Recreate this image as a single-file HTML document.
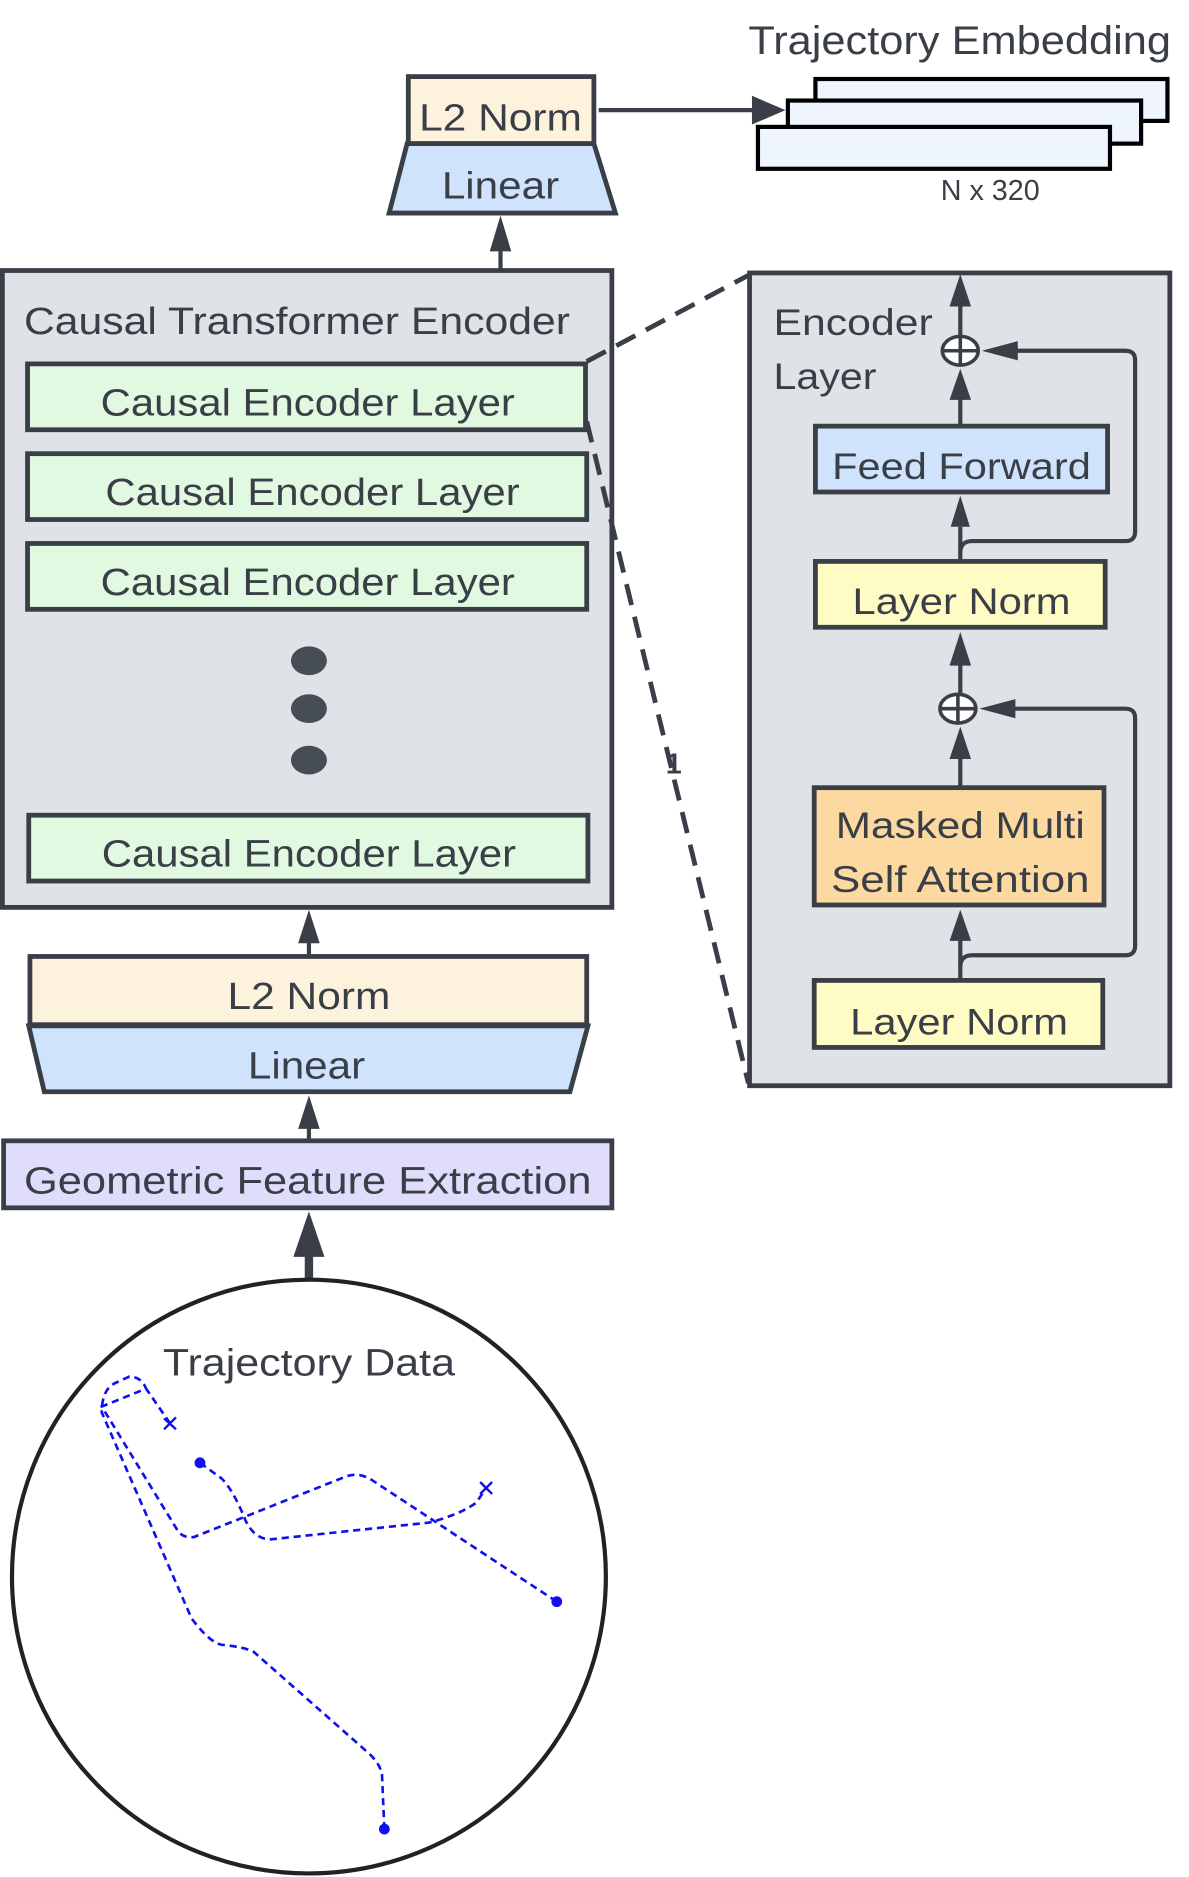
<!DOCTYPE html>
<html><head><meta charset="utf-8"><style>
html,body{margin:0;padding:0;background:#fff;}
svg{display:block;}
text{font-family:"Liberation Sans",sans-serif;fill:#3a3f47;}
</style></head><body>
<svg width="1189" height="1877" viewBox="0 0 993 1568" preserveAspectRatio="none" xmlns="http://www.w3.org/2000/svg">
<g stroke="#3a3f47" stroke-width="4">
<text x="625" y="45" font-size="33" textLength="353" lengthAdjust="spacingAndGlyphs" stroke="none">Trajectory Embedding</text>
<rect x="681" y="66" width="294" height="35" fill="#eef5ff" stroke="#000" stroke-width="3.5"/>
<rect x="658" y="84" width="295" height="36" fill="#eef5ff" stroke="#000" stroke-width="3.5"/>
<rect x="633" y="106" width="294" height="35" fill="#eef5ff" stroke="#000" stroke-width="3.5"/>
<text x="827" y="167" font-size="24" text-anchor="middle" stroke="none">N x 320</text>

<rect x="341" y="64" width="155" height="56" fill="#fdf3dc"/>
<text x="418" y="109" font-size="32" text-anchor="middle" textLength="136" lengthAdjust="spacingAndGlyphs" stroke="none">L2 Norm</text>
<polygon points="340,120 496,120 514,178 325,178" fill="#cfe3fc"/>
<text x="418" y="166" font-size="32" text-anchor="middle" textLength="98" lengthAdjust="spacingAndGlyphs" stroke="none">Linear</text>
<line x1="500" y1="92" x2="630" y2="92" stroke-width="3.5"/>
<polygon points="656,92 628,80 628,104" fill="#3a3f47" stroke="none"/>
<line x1="418" y1="225" x2="418" y2="205" stroke-width="3.5"/>
<polygon points="418,180 409,210 427,210" fill="#3a3f47" stroke="none"/>

<rect x="2" y="226" width="509" height="532" fill="#dfe2e7"/>
<text x="20" y="279" font-size="32" textLength="456" lengthAdjust="spacingAndGlyphs" stroke="none">Causal Transformer Encoder</text>
<rect x="23" y="304" width="466" height="55" fill="#e1f9e1"/>
<text x="257" y="347" font-size="32" text-anchor="middle" textLength="346" lengthAdjust="spacingAndGlyphs" stroke="none">Causal Encoder Layer</text>
<rect x="23" y="379" width="467" height="55" fill="#e1f9e1"/>
<text x="261" y="422" font-size="32" text-anchor="middle" textLength="346" lengthAdjust="spacingAndGlyphs" stroke="none">Causal Encoder Layer</text>
<rect x="23" y="454" width="467" height="55" fill="#e1f9e1"/>
<text x="257" y="497" font-size="32" text-anchor="middle" textLength="346" lengthAdjust="spacingAndGlyphs" stroke="none">Causal Encoder Layer</text>
<ellipse cx="258" cy="552" rx="15" ry="12" fill="#474d55" stroke="none"/>
<ellipse cx="258" cy="592" rx="15" ry="12" fill="#474d55" stroke="none"/>
<ellipse cx="258" cy="635" rx="15" ry="12" fill="#474d55" stroke="none"/>
<rect x="24" y="681" width="467" height="55" fill="#e1f9e1"/>
<text x="258" y="724" font-size="32" text-anchor="middle" textLength="346" lengthAdjust="spacingAndGlyphs" stroke="none">Causal Encoder Layer</text>

<line x1="258" y1="797" x2="258" y2="780" stroke-width="3.5"/>
<polygon points="258,760 249,788 267,788" fill="#3a3f47" stroke="none"/>
<rect x="25" y="799" width="465" height="57" fill="#fdf3dc"/>
<text x="258" y="843" font-size="32" text-anchor="middle" textLength="136" lengthAdjust="spacingAndGlyphs" stroke="none">L2 Norm</text>
<polygon points="24,857 491,857 476,912 37,912" fill="#cfe3fc"/>
<text x="256" y="901" font-size="32" text-anchor="middle" textLength="98" lengthAdjust="spacingAndGlyphs" stroke="none">Linear</text>
<line x1="258" y1="952" x2="258" y2="935" stroke-width="3.5"/>
<polygon points="258,915 249,943 267,943" fill="#3a3f47" stroke="none"/>
<rect x="3" y="953" width="508" height="56" fill="#e0dcfb"/>
<text x="257" y="997" font-size="32" text-anchor="middle" textLength="474" lengthAdjust="spacingAndGlyphs" stroke="none">Geometric Feature Extraction</text>
<line x1="258" y1="1070" x2="258" y2="1040" stroke-width="7"/>
<polygon points="258,1012 245,1050 271,1050" fill="#3a3f47" stroke="none"/>

<circle cx="258" cy="1317" r="248" fill="#fff" stroke="#222" stroke-width="3.5"/>
<text x="258" y="1149" font-size="32" text-anchor="middle" textLength="244" lengthAdjust="spacingAndGlyphs" stroke="none">Trajectory Data</text>
<g fill="none" stroke="#1010ee" stroke-width="2.2" stroke-dasharray="6,4">
<path d="M142,1189 L122,1160 L85,1175 L148,1278 Q152,1285 162,1284 L290,1233 Q300,1230 310,1236 L465,1338"/>
<path d="M321,1528 L319,1482 Q317,1472 305,1462 L212,1380 Q205,1376 185,1374 Q175,1372 160,1352 L85,1180 Q85,1160 97,1155 L108,1150 Q118,1150 122,1160"/>
<path d="M167,1222 L185,1235 Q195,1245 205,1270 Q212,1285 225,1286 L358,1272 Q385,1265 398,1255 L406,1243"/>
</g>
<circle cx="167" cy="1222" r="4.5" fill="#1010ee" stroke="none"/>
<circle cx="465" cy="1338" r="4.5" fill="#1010ee" stroke="none"/>
<circle cx="321" cy="1528" r="4.5" fill="#1010ee" stroke="none"/>
<g stroke="#1010ee" stroke-width="2"><path d="M137,1185 L147,1194 M147,1184 L137,1194 M401,1238 L411,1248 M411,1238 L401,1248"/></g>

<g stroke="#3a3f47" stroke-width="4" stroke-dasharray="18,10" fill="none">
<line x1="490" y1="302" x2="625" y2="230"/>
<line x1="490" y1="352" x2="625" y2="905"/>
</g>
<text x="556" y="646" font-size="24" font-weight="bold" stroke="none" fill="#222">1</text>

<rect x="626" y="228" width="351" height="679" fill="#dfe2e7"/>
<text x="646" y="280" font-size="31" textLength="133" lengthAdjust="spacingAndGlyphs" stroke="none">Encoder</text>
<text x="646" y="325" font-size="31" textLength="86" lengthAdjust="spacingAndGlyphs" stroke="none">Layer</text>
<g stroke-width="3.5" fill="none">
<line x1="802" y1="818" x2="802" y2="780"/>
<line x1="802" y1="657" x2="802" y2="632"/>
<line x1="802" y1="580" x2="802" y2="555"/>
<line x1="802" y1="468" x2="802" y2="440"/>
<line x1="802" y1="355" x2="802" y2="330"/>
<line x1="802" y1="280" x2="802" y2="250"/>
<path d="M802,808 Q802,798 812,798 L940,798 Q948,798 948,790 L948,600 Q948,592 940,592 L840,592"/>
<path d="M802,462 Q802,452 812,452 L940,452 Q948,452 948,444 L948,301 Q948,293 940,293 L840,293"/>
</g>
<g fill="#3a3f47" stroke="none">
<polygon points="802,760 793,786 811,786"/>
<polygon points="802,607 793,634 811,634"/>
<polygon points="802,528 793,556 811,556"/>
<polygon points="802,414 794,440 810,440"/>
<polygon points="802,308 793,334 811,334"/>
<polygon points="802,229 793,256 811,256"/>
<polygon points="818,592 848,584 848,600"/>
<polygon points="820,293 850,285 850,301"/>
</g>
<ellipse cx="802" cy="293" rx="15" ry="12" fill="#fff" stroke-width="3"/>
<line x1="787" y1="293" x2="817" y2="293" stroke-width="3"/>
<line x1="802" y1="281" x2="802" y2="305" stroke-width="3"/>
<ellipse cx="800" cy="592" rx="15" ry="12" fill="#fff" stroke-width="3"/>
<line x1="785" y1="592" x2="815" y2="592" stroke-width="3"/>
<line x1="800" y1="580" x2="800" y2="604" stroke-width="3"/>

<rect x="681" y="356" width="244" height="55" fill="#cfe3fc"/>
<text x="803" y="400" font-size="31" text-anchor="middle" textLength="216" lengthAdjust="spacingAndGlyphs" stroke="none">Feed Forward</text>
<rect x="681" y="469" width="242" height="55" fill="#fefbc4"/>
<text x="803" y="513" font-size="31" text-anchor="middle" textLength="182" lengthAdjust="spacingAndGlyphs" stroke="none">Layer Norm</text>
<rect x="680" y="658" width="242" height="98" fill="#fdd9a2"/>
<text x="802" y="700" font-size="31" text-anchor="middle" textLength="208" lengthAdjust="spacingAndGlyphs" stroke="none">Masked Multi</text>
<text x="802" y="745" font-size="31" text-anchor="middle" textLength="216" lengthAdjust="spacingAndGlyphs" stroke="none">Self Attention</text>
<rect x="680" y="819" width="241" height="56" fill="#fefbc4"/>
<text x="801" y="864" font-size="31" text-anchor="middle" textLength="182" lengthAdjust="spacingAndGlyphs" stroke="none">Layer Norm</text>
</g>
</svg>
</body></html>
